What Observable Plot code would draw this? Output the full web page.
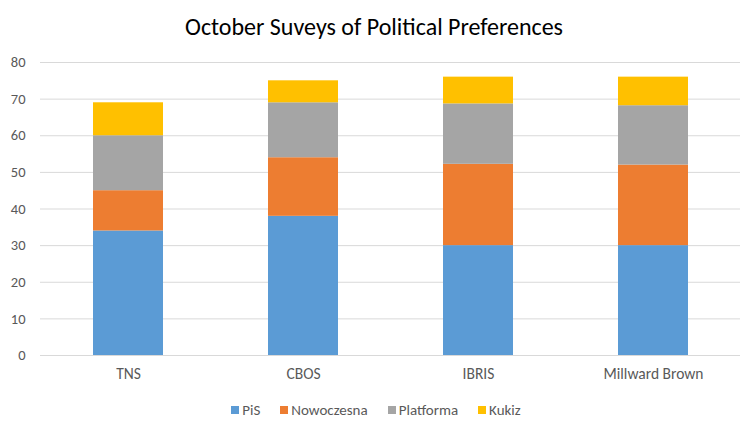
<!DOCTYPE html>
<html>
<head>
<meta charset="utf-8">
<script src="https://cdn.jsdelivr.net/npm/d3@7"></script>
<script src="https://cdn.jsdelivr.net/npm/@observablehq/plot@0.6"></script>
<style>
  body { margin: 0; background: #fff; font-family: Carlito, Calibri, Lato, "Open Sans", sans-serif; }
  #wrap { width: 748px; height: 432px; position: relative; overflow: hidden; }
  #title { height: 46px; line-height: 54px; text-align: center; font-size: 24px; color: #000; }
  #legend { display: flex; justify-content: center; align-items: center; height: 40px; font-size: 15px; color: #595959; margin-left: 4px; }
  .item { display: flex; align-items: center; margin: 0 10px; }
  .sw { width: 8px; height: 8px; margin-right: 3px; }
</style>
</head>
<body>
<div id="wrap">
  <div id="title">October Suveys of Political Preferences</div>
  <div id="chart"></div>
  <div id="legend"></div>
</div>
<script>
const categories = ["TNS", "CBOS", "IBRIS", "Millward Brown"];
const series = ["PiS", "Nowoczesna", "Platforma", "Kukiz"];
const colors = ["#5b9bd5", "#ed7d31", "#a5a5a5", "#ffc000"];
const pis = [34, 38, 30, 30];
const nowoczesna = [11, 16, 22.2, 22];
const platforma = [15, 15, 16.5, 16.2];
const kukiz = [9, 6, 7.3, 7.8];
const yTicks = [0, 10, 20, 30, 40, 50, 60, 70, 80];

const seriesValues = [pis, nowoczesna, platforma, kukiz];
const rows = [];
series.forEach((s, i) => {
  categories.forEach((c, j) => rows.push({ category: c, series: s, value: seriesValues[i][j] }));
});

const chart = Plot.plot({
  width: 748,
  height: 344,
  marginTop: 16,
  marginBottom: 35,
  marginLeft: 40,
  marginRight: 8,
  style: { fontFamily: "Carlito, Calibri, Lato, 'Open Sans', sans-serif", fontSize: "14px", color: "#595959", background: "#fff" },
  x: { domain: categories, paddingInner: 0.6, paddingOuter: 0.3, label: null },
  y: { domain: [0, 80], ticks: yTicks, label: null },
  color: { domain: series, range: colors },
  marks: [
    Plot.gridY(yTicks, { stroke: "#d9d9d9", strokeOpacity: 1, strokeWidth: 1 }),
    Plot.barY(rows, Plot.stackY({ x: "category", y: "value", fill: "series", order: null })),
    Plot.axisX({ tickSize: 0, tickPadding: 12, fontSize: 15.5, fill: "#595959" }),
    Plot.axisY({ ticks: yTicks, tickSize: 0, tickPadding: 15, fontSize: 14.5, fill: "#595959" })
  ]
});
document.getElementById("chart").appendChild(chart);

const legend = document.getElementById("legend");
series.forEach((s, i) => {
  const it = document.createElement("div");
  it.className = "item";
  const sw = document.createElement("div");
  sw.className = "sw";
  sw.style.background = colors[i];
  const t = document.createElement("span");
  t.textContent = s;
  it.appendChild(sw); it.appendChild(t);
  legend.appendChild(it);
});
</script>
</body>
</html>
